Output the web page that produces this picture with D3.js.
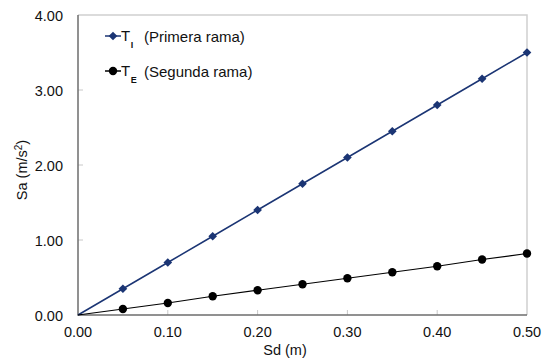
<!DOCTYPE html>
<html>
<head>
<meta charset="utf-8">
<script src="https://cdn.jsdelivr.net/npm/d3@7"></script>
<style>
  body { margin: 0; background: #fff; }
  text { font-family: "Liberation Sans", Arial, sans-serif; fill: #111; }
</style>
</head>
<body>
<div id="chart"></div>
<script>
// Sd (m) values and the two branches of Sa (m/s2)
const sd = [0, 0.05, 0.10, 0.15, 0.20, 0.25, 0.30, 0.35, 0.40, 0.45, 0.50];
const saPrimera = [0, 0.35, 0.70, 1.05, 1.40, 1.75, 2.10, 2.45, 2.80, 3.15, 3.50];
const saSegunda = [0, 0.08, 0.16, 0.25, 0.33, 0.41, 0.49, 0.57, 0.65, 0.74, 0.82];
const xTicks = [0, 0.1, 0.2, 0.3, 0.4, 0.5];
const yTicks = [0, 1, 2, 3, 4];

const width = 542, height = 362;
const margin = {top: 15, right: 15, bottom: 47, left: 78};
const fs = "14.5px";

const svg = d3.select("#chart").append("svg")
  .attr("width", width)
  .attr("height", height);

const x = d3.scaleLinear().domain([0, 0.5]).range([margin.left, width - margin.right]);
const y = d3.scaleLinear().domain([0, 4]).range([height - margin.bottom, margin.top]);

// light frame top / right
svg.append("path")
  .attr("d", `M${x(0)},${y(4)}H${x(0.5)}V${y(0)}`)
  .attr("fill", "none")
  .attr("stroke", "#d0d0d0")
  .attr("stroke-width", 1.5);

// inner ticks (light)
svg.append("g").selectAll("line")
  .data(xTicks.slice(1, -1))
  .join("line")
  .attr("x1", d => x(d)).attr("x2", d => x(d))
  .attr("y1", y(0)).attr("y2", y(0) - 5)
  .attr("stroke", "#c8c8c8");
svg.append("g").selectAll("line")
  .data(yTicks.slice(1, -1))
  .join("line")
  .attr("x1", x(0)).attr("x2", x(0) + 5)
  .attr("y1", d => y(d)).attr("y2", d => y(d))
  .attr("stroke", "#c8c8c8");

// axes lines
svg.append("path")
  .attr("d", `M${x(0)},${y(4)}V${y(0)}H${x(0.5)}`)
  .attr("fill", "none")
  .attr("stroke", "#6e6e6e")
  .attr("stroke-width", 1.5);

// tick labels
svg.append("g").selectAll("text")
  .data(xTicks)
  .join("text")
  .attr("x", d => x(d))
  .attr("y", y(0) + 22)
  .attr("text-anchor", "middle")
  .style("font-size", fs)
  .text(d => d3.format(".2f")(d));
svg.append("g").selectAll("text")
  .data(yTicks)
  .join("text")
  .attr("x", x(0) - 15)
  .attr("y", d => y(d) + 6)
  .attr("text-anchor", "end")
  .style("font-size", fs)
  .text(d => d3.format(".2f")(d));

// axis titles
svg.append("text")
  .attr("x", 285)
  .attr("y", 355)
  .attr("text-anchor", "middle")
  .style("font-size", fs)
  .text("Sd (m)");
const yl = svg.append("text")
  .attr("transform", `translate(27, 170) rotate(-90)`)
  .attr("text-anchor", "middle")
  .style("font-size", fs);
yl.append("tspan").text("Sa (m/s");
yl.append("tspan").attr("dy", -5).style("font-size", "10px").text("2");
yl.append("tspan").attr("dy", 5).text(")");

const line = d3.line();
const navy = "#1b3574";

const series = [
  {vals: saPrimera, color: navy, shape: d3.symbolDiamond2, size: 48, width: 1.5},
  {vals: saSegunda, color: "#000", shape: d3.symbolCircle, size: 55, width: 1.2}
];

series.forEach(s => {
  const pts = sd.map((d, i) => [x(d), y(s.vals[i])]);
  svg.append("path")
    .attr("d", line(pts))
    .attr("fill", "none")
    .attr("stroke", s.color)
    .attr("stroke-width", s.width);
  svg.append("g").selectAll("path")
    .data(pts.slice(1))
    .join("path")
    .attr("transform", d => `translate(${d[0]},${d[1]})`)
    .attr("fill", s.color)
    .attr("d", d3.symbol(s.shape, s.size)());
});

// legend
const legend = [
  {name: "I", label: "(Primera rama)", color: navy, shape: d3.symbolDiamond2, size: 48, yy: 36},
  {name: "E", label: "(Segunda rama)", color: "#000", shape: d3.symbolCircle, size: 55, yy: 71}
];
legend.forEach(l => {
  svg.append("line")
    .attr("x1", 105).attr("x2", 121)
    .attr("y1", l.yy).attr("y2", l.yy)
    .attr("stroke", l.color)
    .attr("stroke-width", 1.5);
  svg.append("path")
    .attr("d", d3.symbol(l.shape, l.size)())
    .attr("transform", `translate(113,${l.yy})`)
    .attr("fill", l.color);
  const t = svg.append("text")
    .attr("x", 121)
    .attr("y", l.yy + 5)
    .style("font-size", "15px");
  t.append("tspan").text("T");
  t.append("tspan").attr("dy", 7).attr("dx", 0.5).style("font-size", "9px").style("font-weight", "bold").text(l.name);
  svg.append("text")
    .attr("x", 144)
    .attr("y", l.yy + 6)
    .style("font-size", "15px")
    .text(l.label);
});
</script>
</body>
</html>
